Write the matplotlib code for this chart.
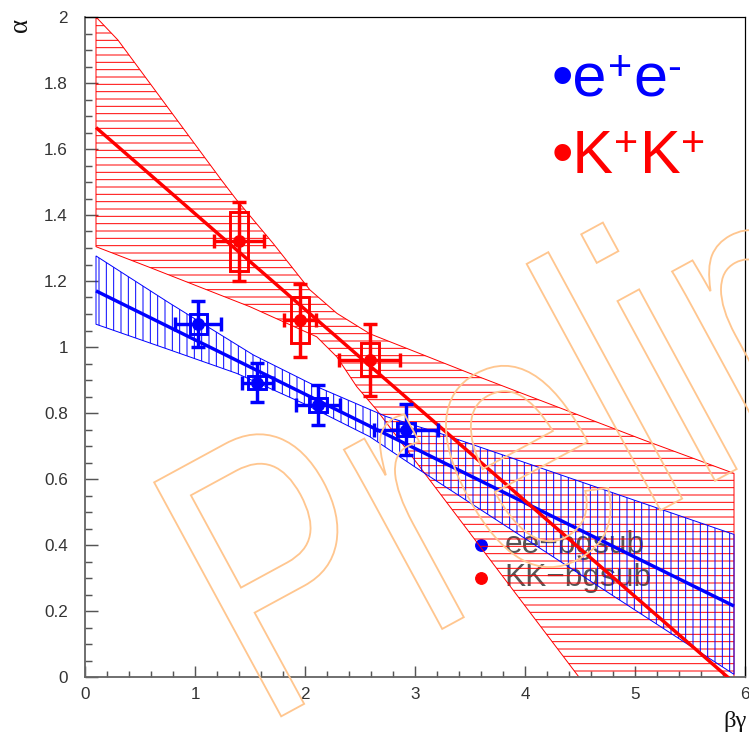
import matplotlib
matplotlib.use("Agg")
import numpy as np
import matplotlib.pyplot as plt
from matplotlib.patches import Rectangle, PathPatch
from matplotlib.textpath import TextPath
from matplotlib.font_manager import FontProperties
from matplotlib.transforms import Affine2D
from matplotlib.ticker import MultipleLocator, FuncFormatter

# ---------------- data ----------------
# e+e- points
ee_x = [1.03, 1.566, 2.12, 2.92]
ee_y = [1.07, 0.892, 0.824, 0.75]
ee_xerr = [0.21, 0.14, 0.20, 0.29]
ee_yerr = [0.07, 0.06, 0.06, 0.078]
ee_sys_x = [0.08, 0.08, 0.08, 0.08]
ee_sys_y = [0.03, 0.02, 0.02, 0.02]

# K+K+ points
kk_x = [1.40, 1.955, 2.588]
kk_y = [1.32, 1.081, 0.961]
kk_xerr = [0.23, 0.147, 0.28]
kk_yerr = [0.12, 0.11, 0.11]
kk_sys_x = [0.082, 0.08, 0.082]
kk_sys_y = [0.09, 0.07, 0.05]

# fitted lines (end points)
fit_x = [0.1, 5.9]
ee_fit = [1.17, 0.215]
kk_fit = [1.665, -0.017]

# error bands of the fits
ee_band_up_x = [0.1, 0.773, 1.53, 2.106, 2.74, 3.23, 5.9]
ee_band_up_y = [1.276, 1.132, 0.976, 0.88, 0.789, 0.738, 0.432]
ee_band_lo_x = [0.1, 0.773, 1.38, 1.985, 2.59, 3.02, 5.9]
ee_band_lo_y = [1.069, 0.991, 0.92, 0.829, 0.728, 0.632, 0.008]

kk_band_up_x = [0.1, 0.3, 1.24, 1.38, 1.71, 2.045, 2.29, 2.59, 3.5, 5.08, 5.9]
kk_band_up_y = [2.0, 1.93, 1.506, 1.445, 1.314, 1.173, 1.102, 1.04, 0.92, 0.718, 0.617]
kk_band_lo_x = [0.1, 0.59, 1.5, 2.106, 2.29, 2.47, 2.65, 4.49, 5.9]
kk_band_lo_y = [1.304, 1.241, 1.122, 1.031, 0.97, 0.88, 0.81, 0.0, -0.62]

legend_labels = ["ee\u2212bgsub", "KK\u2212bgsub"]
# big species labels: (base letter, charge) pairs
ee_label = [("\u2022e", "+"), ("e", "-")]
kk_label = [("\u2022K", "+"), ("K", "+")]

BLUE = "#0000FF"
RED = "#FF0000"
ORANGE = "#FFC68F"

# ---------------- style ----------------
DPI = 88
plt.rcParams["font.family"] = ["Liberation Sans", "DejaVu Sans"]
plt.rcParams["hatch.linewidth"] = 0.8

fig = plt.figure(figsize=(749 / DPI, 737 / DPI), dpi=DPI)
fig.patch.set_facecolor("white")
ax = fig.add_axes([85 / 749, 60 / 737, 660 / 749, 660 / 737])
ax.set_xlim(0, 6)
ax.set_ylim(0, 2)

# ---------------- bands ----------------
def band(ax, xu, yu, xl, yl, color, hatch, z):
    px = np.concatenate([xu, xl[::-1]])
    py = np.concatenate([yu, yl[::-1]])
    ax.fill(px, py, facecolor="none", edgecolor=color, hatch=hatch,
            linewidth=0.8, zorder=z)

band(ax, np.array(kk_band_up_x), np.array(kk_band_up_y),
     np.array(kk_band_lo_x), np.array(kk_band_lo_y), RED, "--", 2)
band(ax, np.array(ee_band_up_x), np.array(ee_band_up_y),
     np.array(ee_band_lo_x), np.array(ee_band_lo_y), BLUE, "||", 3)

# ---------------- fit lines ----------------
ax.plot(fit_x, ee_fit, color=BLUE, lw=2.8, zorder=4, solid_capstyle="butt")
ax.plot(fit_x, kk_fit, color=RED, lw=2.8, zorder=4, solid_capstyle="butt")

# ---------------- points ----------------
def points(ax, x, y, xe, ye, sx, sy, color):
    for xi, yi, sxi, syi in zip(x, y, sx, sy):
        ax.add_patch(Rectangle((xi - sxi, yi - syi), 2 * sxi, 2 * syi,
                               facecolor="none", edgecolor=color, lw=2.4,
                               zorder=5))
    ax.errorbar(x, y, xerr=xe, yerr=ye, fmt="o", color=color, ms=9.5,
                elinewidth=2.8, capsize=5.5, capthick=2.8, zorder=6)

points(ax, ee_x, ee_y, ee_xerr, ee_yerr, ee_sys_x, ee_sys_y, BLUE)
points(ax, kk_x, kk_y, kk_xerr, kk_yerr, kk_sys_x, kk_sys_y, RED)

# ---------------- legend ----------------
for yy, col, lab in zip([0.2, 0.15], [BLUE, RED], legend_labels):
    ax.plot([0.6], [yy], "o", color=col, ms=9.5, transform=ax.transAxes,
            zorder=1, clip_on=False)
    ax.text(0.636, yy, lab, transform=ax.transAxes, color="#555555",
            fontsize=26, ha="left", va="center", zorder=1)


def species_label(ax, x, y, parts, color, size=50, sup_size=34, rise=14):
    """Write letters with raised charge signs, each piece after the last."""
    prev = None
    for base, charge in parts:
        if prev is None:
            t = ax.text(x, y, base, transform=ax.transAxes, color=color,
                        fontsize=size, ha="left", va="baseline", zorder=7)
        else:
            t = ax.annotate(base, xy=(1, y), xycoords=(prev, ax.transAxes),
                            xytext=(1, 0), textcoords="offset points",
                            color=color, fontsize=size, ha="left",
                            va="baseline", zorder=7)
        prev = ax.annotate(charge, xy=(1, y), xycoords=(t, ax.transAxes),
                           xytext=(0.5, rise), textcoords="offset points",
                           color=color, fontsize=sup_size, ha="left",
                           va="baseline", zorder=7)


species_label(ax, 0.707, 0.879, ee_label, BLUE)
species_label(ax, 0.707, 0.764, kk_label, RED)

# ---------------- axes ----------------
for side in ("top", "right"):
    ax.spines[side].set_color("black")
    ax.spines[side].set_linewidth(1.0)
for side in ("left", "bottom"):
    ax.spines[side].set_color("#666666")
    ax.spines[side].set_linewidth(1.5)

ax.xaxis.set_major_locator(MultipleLocator(1))
ax.xaxis.set_minor_locator(MultipleLocator(0.2))
ax.yaxis.set_major_locator(MultipleLocator(0.2))
ax.yaxis.set_minor_locator(MultipleLocator(0.05))
fmt = FuncFormatter(lambda v, p: "%g" % round(v, 3))
ax.xaxis.set_major_formatter(fmt)
ax.yaxis.set_major_formatter(fmt)

ax.tick_params(axis="y", which="major", direction="in", length=11, width=1.2,
               color="#555555", labelsize=14, labelcolor="#333333", pad=14,
               right=False)
ax.tick_params(axis="y", which="minor", direction="in", length=5.7, width=1.2,
               color="#555555", right=False)
ax.tick_params(axis="x", which="major", direction="in", length=9, width=1.2,
               color="#555555", labelsize=14, labelcolor="#333333", pad=8,
               top=False)
ax.tick_params(axis="x", which="minor", direction="in", length=4.9, width=1.2,
               color="#555555", top=False)

fig.text(20 / 749, 1 - 25 / 737, "\u03b1", rotation=90, fontsize=22,
         family="Liberation Serif", ha="center", va="center", color="#111111")
fig.text(747 / 749, 16 / 737, "\u03b2\u03b3", fontsize=20,
         family="Liberation Serif", ha="right", va="center", color="#111111")

# ---------------- watermark ----------------
wm_path = TextPath((0, 0), "Preliminary", size=1,
                   prop=FontProperties(family="Liberation Sans"))
wm_tr = Affine2D().scale(280, 387).rotate_deg(28.5).translate(261, 9.7)
fig.add_artist(PathPatch(wm_path, transform=wm_tr, facecolor="none",
                         edgecolor=ORANGE, lw=1.5, zorder=20))

fig.savefig("out.png", dpi=DPI)
